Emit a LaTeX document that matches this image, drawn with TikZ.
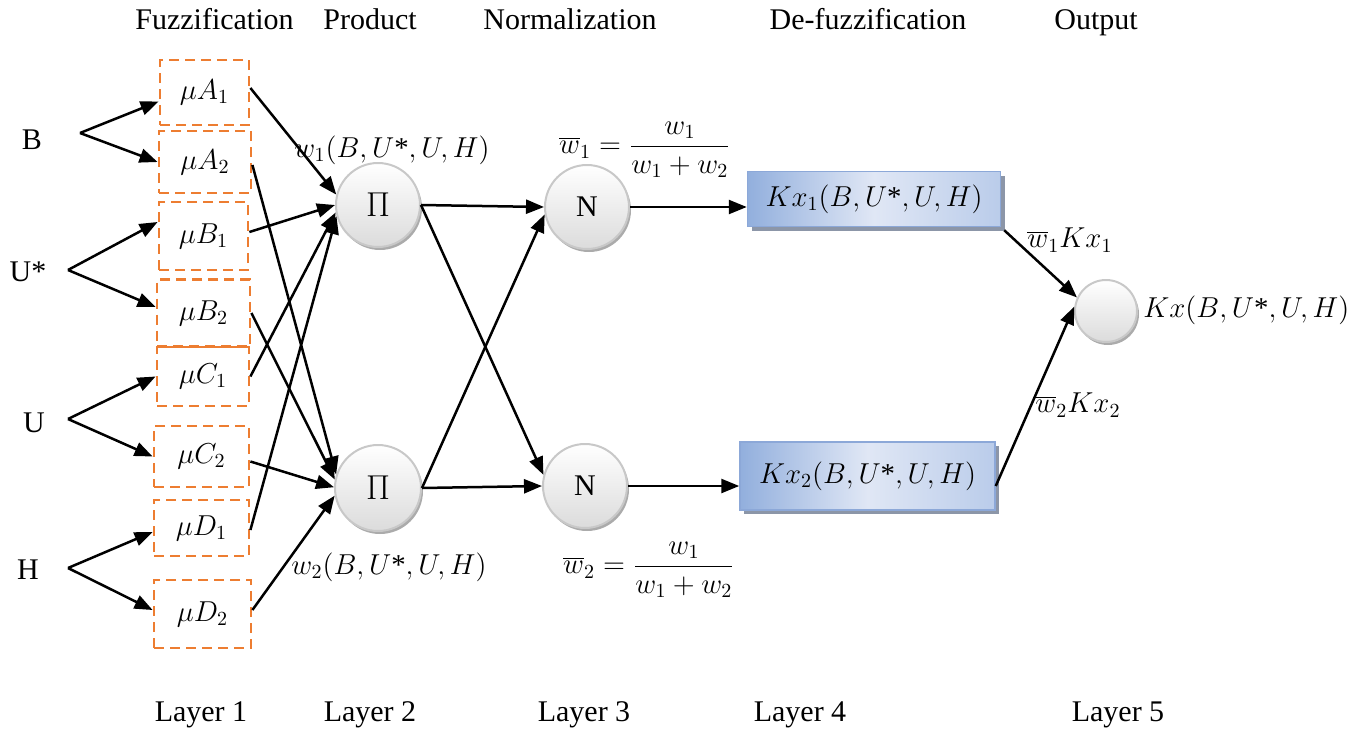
\documentclass[tikz,border=0pt]{standalone}
\usepackage{fontspec}
\setmainfont{Liberation Serif}
\usetikzlibrary{arrows.meta,shadows}
\definecolor{fzorange}{RGB}{237,125,49}
\definecolor{kxleft}{RGB}{146,175,221}
\definecolor{kxmid}{RGB}{224,231,245}
\definecolor{kxright}{RGB}{186,204,234}
\definecolor{kxborder}{RGB}{140,168,216}
\definecolor{kxshadow}{RGB}{140,150,168}
\definecolor{ballline}{RGB}{200,200,200}
\definecolor{ballshadow}{RGB}{150,150,150}
\newcommand{\hdrfont}{\fontsize{15}{18}\selectfont}
\newcommand{\lblfont}{\fontsize{14.4}{17}\selectfont}
\newcommand{\pifont}{\fontsize{17.28}{20}\selectfont}
\newcommand{\st}{\mbox{*}}
\begin{document}
\begin{tikzpicture}[x=0.5pt,y=-0.5pt,
  hdr/.style={font=\hdrfont, inner sep=0pt, anchor=base},
  lbl/.style={font=\lblfont, inner sep=0pt},
  inp/.style={font=\hdrfont, inner sep=0pt},
  fz/.style={draw=fzorange, line width=1.4pt, dash pattern=on 5pt off 3pt, inner sep=0pt, font=\lblfont},
  ball/.style={circle, minimum size=#1, inner sep=0pt, draw=ballline, line width=1pt,
    top color=white, bottom color=gray!28, font=\hdrfont,
    drop shadow={shadow xshift=1pt, shadow yshift=-1.5pt, fill=ballshadow, opacity=0.8}},
  kx/.style={rectangle, draw=kxborder, line width=0.75pt, left color=kxleft, right color=kxright,
    middle color=kxmid, inner sep=0pt, font=\lblfont,
    drop shadow={shadow xshift=2pt, shadow yshift=-2pt, fill=kxshadow, opacity=1}},
  arr/.style={-{Triangle[length=9pt,width=7pt]}, line width=1.25pt}
]
\useasboundingbox (0,0) rectangle (1351,729);

% headers
\node[hdr] (h1) at (214.5,29) {Fuzzification};
\node[hdr] (h2) at (370,29) {Product};
\node[hdr] (h3) at (570,29) {Normalization};
\node[hdr] (h4) at (868,29) {De-fuzzification};
\node[hdr] (h5) at (1096,29) {Output};

% layer labels
\node[hdr] (l1) at (201,721) {Layer 1};
\node[hdr] (l2) at (370,721) {Layer 2};
\node[hdr] (l3) at (584,721) {Layer 3};
\node[hdr] (l4) at (800,721) {Layer 4};
\node[hdr] (l5) at (1118,721) {Layer 5};

% inputs
\node[inp] (B) at (32,140) {B};
\node[inp] (Us) at (28,272) {U*};
\node[inp] (U) at (34,423) {U};
\node[inp] (H) at (28,570) {H};
\coordinate (Bf) at (80,133);
\coordinate (Usf) at (68,270);
\coordinate (Uf) at (68,419);
\coordinate (Hf) at (68,568);

% fuzzification boxes
\node[fz, minimum width=44.5pt, minimum height=32.5pt] (A1) at (204.5,92.5) {$\mu A_1$};
\node[fz, minimum width=46pt, minimum height=31pt] (A2) at (205,162) {$\mu A_2$};
\node[fz, minimum width=44.5pt, minimum height=34pt] (B1) at (203.5,236) {$\mu B_1$};
\node[fz, minimum width=46.5pt, minimum height=33.5pt] (B2) at (203.5,313) {$\mu B_2$};
\node[fz, minimum width=46pt, minimum height=29.5pt] (C1) at (203,376.5) {$\mu C_1$};
\node[fz, minimum width=47.5pt, minimum height=30.5pt] (C2) at (201.5,456.5) {$\mu C_2$};
\node[fz, minimum width=47.5pt, minimum height=28pt] (D1) at (201.5,528) {$\mu D_1$};
\node[fz, minimum width=48.5pt, minimum height=34pt] (D2) at (202.5,614) {$\mu D_2$};

% circles
\node[ball=42pt] (P1) at (378,205) {\pifont$\Pi$};
\node[ball=43pt] (P2) at (378,488) {\pifont$\Pi$};
\node[ball=42pt] (N1) at (587,207) {N};
\node[ball=42pt] (N2) at (585,486) {N};
\node[ball=31pt] (out) at (1106,311) {};

% Kx boxes
\node[kx, minimum width=126.5pt, minimum height=27.5pt] (K1) at (874,199) {$Kx_1(B,U\st,U,H)$};
\node[kx, minimum width=127.5pt, minimum height=34pt] (K2) at (867.5,476) {$Kx_2(B,U\st,U,H)$};

% labels
\node[lbl] (w1l) at (392,150) {$w_1(B,U\st,U,H)$};
\node[lbl] (w2l) at (389,567) {$w_2(B,U\st,U,H)$};
\node[lbl] (n1l) at (645,150) {$\displaystyle \overline{w}_1=\frac{w_1}{w_1+w_2}$};
\node[lbl] (n2l) at (649,570) {$\displaystyle \overline{w}_2=\frac{w_1}{w_1+w_2}$};
\node[lbl] (o1l) at (1070,240) {$\overline{w}_1Kx_1$};
\node[lbl] (o2l) at (1078,405) {$\overline{w}_2Kx_2$};
\node[lbl, anchor=west] (outl) at (1143,310) {$Kx(B,U\st,U,H)$};

% input arrows
\draw[arr] (Bf) -- ([yshift=-4.5pt]A1.west);
\draw[arr] (Bf) -- (A2.west);
\draw[arr] (Usf) -- ([yshift=7pt]B1.west);
\draw[arr] (Usf) -- ([yshift=3pt]B2.west);
\draw[arr] (Uf) -- (C1.west);
\draw[arr] (Uf) -- (C2.west);
\draw[arr] (Hf) -- ([yshift=-2pt]D1.west);
\draw[arr] (Hf) -- ([yshift=2pt]D2.west);

% fuzzification -> product
\draw[arr] ([yshift=2.25pt]A1.east) -- (P1.166);
\draw[arr] ([yshift=-1.5pt]A2.east) -- (P2.162);
\draw[arr] ([yshift=2pt]B1.east) -- (P1.180);
\draw[arr] (B2.east) -- (P2.169);
\draw[arr] (C1.east) -- (P1.190);
\draw[arr] ([yshift=-2.5pt]C2.east) -- (P2.179);
\draw[arr] ([yshift=-1pt]D1.east) -- (P1.195);
\draw[arr] ([yshift=2pt]D2.east) -- (P2.190);

% product -> normalization
\draw[arr] (P1.east) -- (N1.180);
\draw[arr] (P1.east) -- (N2.165);
\draw[arr] (P2.east) -- (N1.190);
\draw[arr] (P2.east) -- (N2.180);

% normalization -> defuzzification
\draw[arr] (N1.east) -- (N1.east -| K1.west);
\draw[arr] (N2.east) -- (N2.east -| K2.west);

% defuzzification -> output
\draw[arr] ([xshift=1.5pt,yshift=-1.5pt]K1.south east) -- (out.155);
\draw[arr] ([yshift=-5pt]K2.east) -- (out.172);
\end{tikzpicture}
\end{document}
